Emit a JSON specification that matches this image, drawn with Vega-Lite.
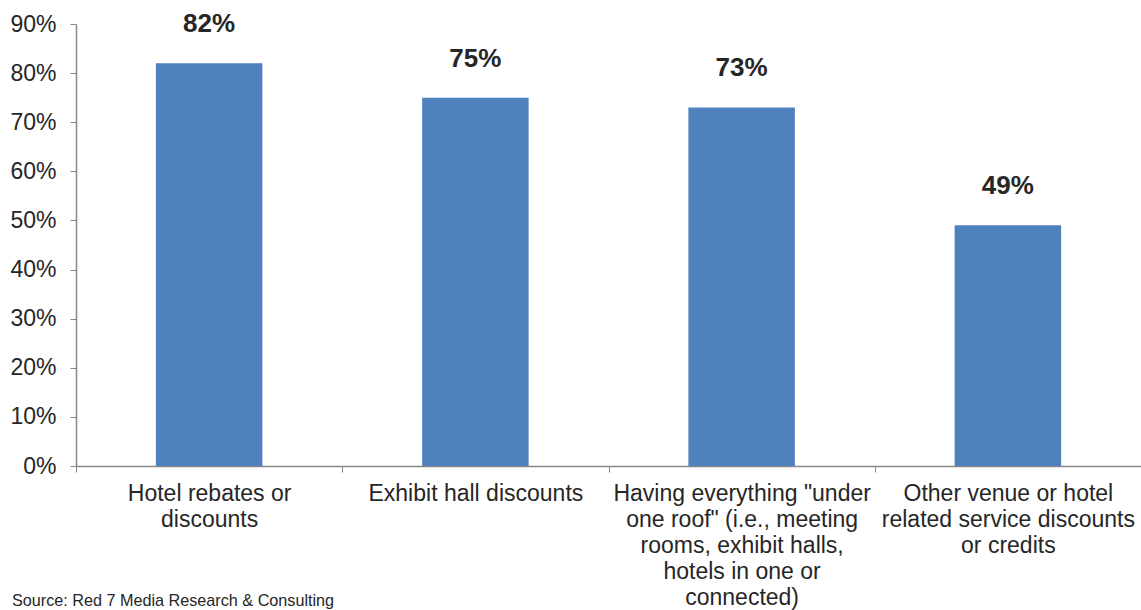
{
  "$schema": "https://vega.github.io/schema/vega-lite/v6.json",
  "width": 1065,
  "height": 442,
  "autosize": {"type": "none"},
  "padding": {"left": 76, "top": 24, "right": 0, "bottom": 144},
  "background": "white",
  "config": {
    "view": {"stroke": null},
    "font": "Liberation Sans",
    "axis": {"labelFont": "Liberation Sans", "labelColor": "#262626", "domainColor": "#878787", "tickColor": "#878787", "grid": false, "title": null}
  },
  "title": {
    "text": "Source: Red 7 Media Research & Consulting",
    "orient": "bottom",
    "anchor": "start",
    "frame": "group",
    "fontSize": 16.2,
    "fontWeight": "normal",
    "color": "#262626",
    "font": "Liberation Sans",
    "dx": -64,
    "dy": -20
  },
  "data": {
    "values": [
      {"category": "Hotel rebates or|discounts", "value": 0.82},
      {"category": "Exhibit hall discounts", "value": 0.75},
      {"category": "Having everything \"under|one roof\" (i.e., meeting|rooms, exhibit halls,|hotels in one or|connected)", "value": 0.73},
      {"category": "Other venue or hotel|related service discounts|or credits", "value": 0.49}
    ]
  },
  "encoding": {
    "x": {
      "field": "category",
      "type": "nominal",
      "sort": null,
      "scale": {"paddingInner": 0, "paddingOuter": 0},
      "axis": {
        "labelAngle": 0,
        "labelExpr": "isString(datum.value) ? split(datum.value, '|') : ''",
        "labelFontSize": 23,
        "labelLineHeight": 26,
        "labelPadding": 10,
        "labelBaseline": "top",
        "tickBand": "extent",
        "tickSize": 6,
        "domainWidth": 1.5,
        "labelLimit": 400
      }
    },
    "y": {
      "field": "value",
      "type": "quantitative",
      "scale": {"domain": [0, 0.9], "nice": false},
      "axis": {
        "format": ".0%",
        "values": [0, 0.1, 0.2, 0.3, 0.4, 0.5, 0.6, 0.7, 0.8, 0.9],
        "labelFontSize": 23,
        "labelPadding": 14,
        "tickSize": 6,
        "domainWidth": 1.5
      }
    }
  },
  "layer": [
    {"mark": {"type": "bar", "color": "#4F81BD", "width": {"band": 0.4}}},
    {
      "mark": {"type": "text", "fontSize": 26, "fontWeight": "bold", "color": "#262626", "baseline": "alphabetic", "dy": -31},
      "encoding": {"text": {"field": "value", "type": "quantitative", "format": ".0%"}}
    }
  ]
}
